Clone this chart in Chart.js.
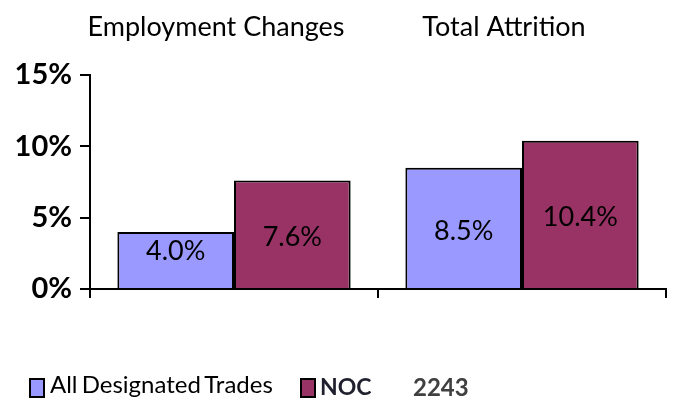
<!DOCTYPE html>
<html>
<head>
<meta charset="utf-8">
<script src="https://cdn.jsdelivr.net/npm/chart.js@4/dist/chart.umd.min.js"></script>
<style>
  html, body { margin: 0; padding: 0; background: #fff; }
  #wrap { position: relative; width: 673px; height: 406px; }
  #legend { position: absolute; left: 0; top: 370px; width: 673px; height: 30px; font-family: Lato, sans-serif; }
  #legend .box { position: absolute; top: 8px; width: 12px; height: 16px; border: 2px solid #000; }
  #legend span { position: absolute; top: 0; white-space: nowrap; }
</style>
</head>
<body>
<div id="wrap">
  <canvas id="chart" width="673" height="406"></canvas>
  <div id="legend">
    <div class="box" style="left:29px; background:#9999FF"></div>
    <span style="left:50px; top:-1px; font-size:24px; color:#000; word-spacing:-2px">All Designated Trades</span>
    <div class="box" style="left:300px; background:#993366"></div>
    <span style="left:320px; top:2px; font-size:23px; font-weight:bold; color:#1f1f2e">NOC</span>
    <span style="left:413px; top:2px; font-size:24px; font-weight:bold; color:#404040">2243</span>
  </div>
</div>
<script>
const categories = ['Employment Changes', 'Total Attrition'];
const allTrades = [4.0, 8.5];
const noc2243 = [7.6, 10.4];
const yTicks = [0, 5, 10, 15];

// draws the value inside each bar, kept a little clear of the base
const barLabels = {
    id: 'barLabels',
    afterDatasetsDraw(chart) {
        const ctx = chart.ctx;
        ctx.save();
        ctx.font = '27px Lato';
        ctx.fillStyle = '#000';
        ctx.textAlign = 'center';
        ctx.textBaseline = 'middle';
        chart.data.datasets.forEach((ds, i) => {
            chart.getDatasetMeta(i).data.forEach((bar, j) => {
                const mid = (bar.y + bar.base) / 2;
                const y = Math.min(mid + 3, bar.base - 37);
                ctx.fillText(ds.data[j].toFixed(1) + '%', bar.x, y);
            });
        });
        ctx.restore();
    }
};

new Chart(document.querySelector('#chart').getContext('2d'), {
    type: 'bar',
    data: {
        labels: categories,
        datasets: [
            {
                label: 'All Designated Trades',
                data: allTrades,
                backgroundColor: '#9999FF',
                borderColor: '#000',
                borderWidth: 2,
                borderSkipped: 'bottom'
            },
            {
                label: 'NOC 2243',
                data: noc2243,
                backgroundColor: '#993366',
                borderColor: '#000',
                borderWidth: 2,
                borderSkipped: 'bottom'
            }
        ]
    },
    options: {
        responsive: false,
        animation: false,
        layout: { padding: { left: 0, right: 7, top: 0, bottom: 0 } },
        barPercentage: 1,
        categoryPercentage: 0.81,
        plugins: {
            legend: { display: false },
            tooltip: { enabled: false }
        },
        scales: {
            x: {
                position: 'bottom',
                grid: { offset: true, drawOnChartArea: false, color: '#000', lineWidth: 2, tickLength: 9 },
                border: { color: '#000', width: 2 },
                ticks: { display: false },
                afterFit(scale) { scale.height = 117; }
            },
            xTop: {
                type: 'category',
                position: 'top',
                labels: categories,
                grid: { display: false },
                border: { display: false },
                ticks: {
                    color: '#000',
                    font: { family: 'Lato', size: 27 },
                    padding: 24,
                    labelOffset: -18
                },
                afterFit(scale) { scale.height = 75; }
            },
            y: {
                min: 0,
                max: 15,
                afterBuildTicks(scale) { scale.ticks = yTicks.map(v => ({ value: v })); },
                grid: { drawOnChartArea: false, color: '#000', lineWidth: 2, tickLength: 10 },
                border: { color: '#000', width: 2 },
                ticks: {
                    color: '#000',
                    padding: 8,
                    font: { family: 'Lato', size: 29, weight: 'bold' },
                    callback: v => v + '%'
                },
                afterFit(scale) { scale.width = 90; }
            }
        }
    },
    plugins: [barLabels]
});
</script>
</body>
</html>
